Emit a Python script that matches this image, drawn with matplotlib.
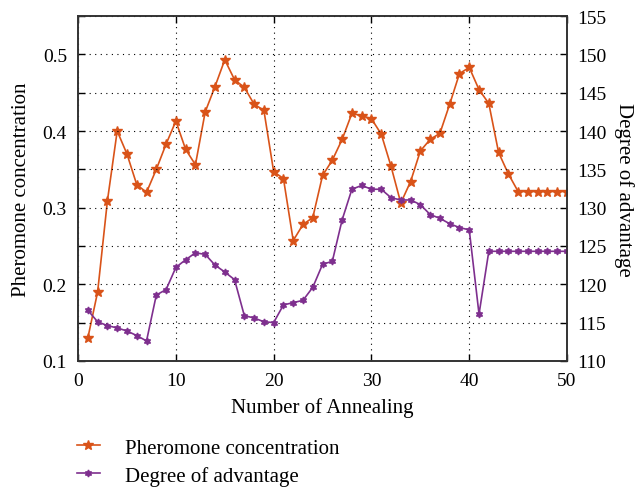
import numpy as np
import matplotlib
matplotlib.use('Agg')
import matplotlib.pyplot as plt
from matplotlib.ticker import MultipleLocator

plt.rcParams['font.family'] = ['Liberation Serif', 'DejaVu Serif']

# datos
annealing = list(range(1, 51))
pheromone = [0.130, 0.190, 0.309, 0.400, 0.370, 0.330, 0.320, 0.350, 0.383, 0.413,
             0.376, 0.356, 0.425, 0.458, 0.493, 0.467, 0.457, 0.435, 0.427, 0.347,
             0.338, 0.257, 0.278, 0.287, 0.342, 0.362, 0.389, 0.423, 0.420, 0.416,
             0.396, 0.354, 0.306, 0.334, 0.374, 0.389, 0.397, 0.435, 0.475, 0.483,
             0.454, 0.436, 0.372, 0.344, 0.321, 0.321, 0.321, 0.321, 0.321, 0.321]
advantage = [116.6, 115.1, 114.6, 114.3, 113.9, 113.3, 112.6, 118.6, 119.3, 122.2,
             123.2, 124.1, 123.9, 122.5, 121.6, 120.6, 115.9, 115.6, 115.1, 115.0,
             117.3, 117.6, 117.9, 119.6, 122.6, 123.0, 128.4, 132.4, 132.9, 132.4,
             132.4, 131.3, 131.0, 131.0, 130.4, 129.1, 128.6, 127.9, 127.4, 127.1,
             116.1, 124.3, 124.3, 124.3, 124.3, 124.3, 124.3, 124.3, 124.3, 124.3]

c_pher = '#D95319'
c_adv = '#7E2F8E'
fs = 15

fig = plt.figure(figsize=(6.4, 4.89), dpi=100)
ax = fig.add_axes([0.122, 0.26, 0.764, 0.705])
ax2 = ax.twinx()

l1, = ax.plot(annealing, pheromone, color=c_pher, lw=1.2, marker='*',
              markersize=7, label='Pheromone concentration')
l2, = ax2.plot(annealing, advantage, color=c_adv, lw=1.2, marker=(6, 1, 0),
               markersize=5, label='Degree of advantage')

ax.set_xlim(0, 50)
ax.set_ylim(0.1, 0.55)
ax2.set_ylim(110, 155)
ax.xaxis.set_major_locator(MultipleLocator(10))
ax.yaxis.set_major_locator(MultipleLocator(0.1))
ax.yaxis.set_minor_locator(MultipleLocator(0.05))
ax2.yaxis.set_major_locator(MultipleLocator(5))

# rejilla punteada
ax.grid(True, axis='x', linestyle=(0, (1, 4)), color='black', lw=0.8)
ax2.grid(True, axis='y', linestyle=(0, (1, 4)), color='black', lw=0.8)

ax.tick_params(direction='in', top=True, labelsize=fs - 1, length=5, width=1, pad=8)
ax.tick_params(which='minor', direction='in', length=5, width=1, left=True)
ax2.tick_params(direction='in', labelsize=fs - 1, length=5, width=1, pad=7)
for a in (ax, ax2):
    for s in a.spines.values():
        s.set_linewidth(1.2)
        s.set_color('#333333')

ax.set_xlabel('Number of Annealing', fontsize=fs, labelpad=6)
ax.set_ylabel('Pheromone concentration', fontsize=fs, labelpad=8)
ax2.set_ylabel('Degree of advantage', fontsize=fs, rotation=270, labelpad=20)

fig.legend(handles=[l1, l2], loc='upper left', bbox_to_anchor=(0.12, 0.102),
           frameon=False, fontsize=fs, handlelength=1.1, handletextpad=1.2,
           labelspacing=0.38, borderpad=0, borderaxespad=0)

fig.savefig('out.png', dpi=100)
